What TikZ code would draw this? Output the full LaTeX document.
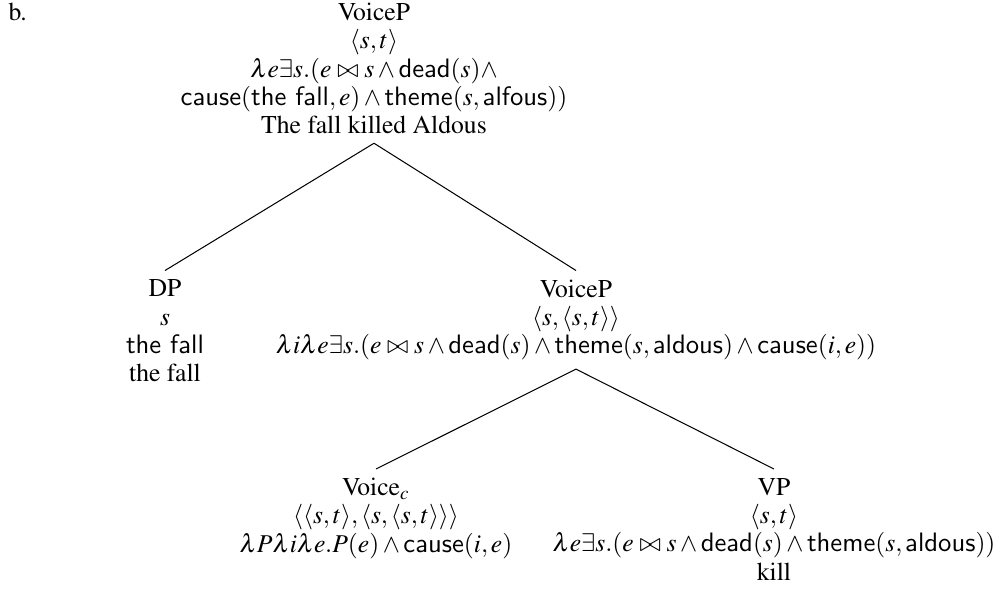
\documentclass[tikz,border=0pt]{standalone}
\usepackage[OT1]{fontenc}
\usepackage{mathptmx}

% sans-serif predicate names inside formulas (Latin Modern Sans)
\newcommand{\pred}[1]{\mbox{\fontencoding{TU}\fontfamily{lmss}\fontsize{10.4}{11}\selectfont #1}}

\begin{document}
\begin{tikzpicture}[x=0.39pt,y=-0.39pt,
    every node/.style={font=\fontsize{10}{11.04}\selectfont},
    treenode/.style={align=center, anchor=north, inner sep=.3333em},
    branch/.style={draw=black, line width=0.4pt}]
  \useasboundingbox (0,0) rectangle (1002,592);

  \node[anchor=base west, inner sep=0pt] (label) at (8,20) {b.};

  \node[treenode] (root) at (374,-5.9) {VoiceP\\
    $\langle s,t\rangle$\\
    $\lambda e\exists s.(e\bowtie s\wedge\pred{dead}(s)\wedge$\\
    $\pred{cause}(\pred{the fall},e)\wedge\pred{theme}(s,\pred{alfous}))$\\
    The fall killed Aldous};

  \node[treenode] (dp) at (165,270.5) {DP\\
    $s$\\
    \pred{the fall}\\
    the fall};

  \node[treenode] (vp1) at (576,270.5) {VoiceP\\
    $\langle s,\langle s,t\rangle\rangle$\\
    $\lambda i\lambda e\exists s.(e\bowtie s\wedge\pred{dead}(s)\wedge\pred{theme}(s,\pred{aldous})\wedge\pred{cause}(i,e))$};

  \node[treenode] (vc) at (376,469) {Voice$_c$\\
    $\langle\langle s,t\rangle,\langle s,\langle s,t\rangle\rangle\rangle$\\
    $\lambda P\lambda i\lambda e.P(e)\wedge\pred{cause}(i,e)$};

  \node[treenode] (vp) at (774,469) {VP\\
    $\langle s,t\rangle$\\
    $\lambda e\exists s.(e\bowtie s\wedge\pred{dead}(s)\wedge\pred{theme}(s,\pred{aldous}))$\\
    kill};

  \draw[branch] (root.south) -- (dp.north);
  \draw[branch] (root.south) -- (vp1.north);
  \draw[branch] (vp1.south) -- (vc.north);
  \draw[branch] (vp1.south) -- (vp.north);
\end{tikzpicture}
\end{document}
